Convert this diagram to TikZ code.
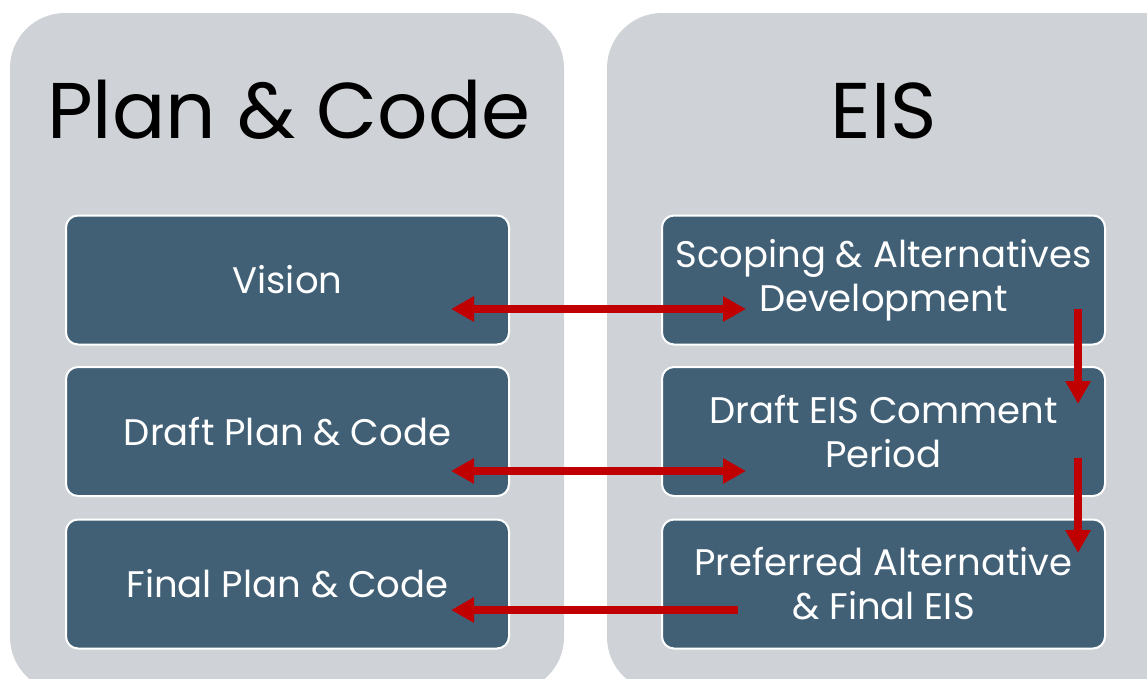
\documentclass[tikz,border=0pt]{standalone}
\usepackage{fontspec}
\setmainfont{Poppins}
\usetikzlibrary{arrows.meta,calc}
\definecolor{panelgray}{RGB}{207,210,214}
\definecolor{stepblue}{RGB}{65,96,118}
\definecolor{linkred}{RGB}{192,0,0}
\tikzset{
panel/.style={fill=panelgray, rounded corners=55pt},
title/.style={text=black, anchor=base, font=\fontsize{79}{90}\selectfont},
stepbox/.style={draw=white, line width=2pt, fill=stepblue, rounded corners=12pt,
  minimum width=443pt, minimum height=129pt, text=white, align=center,
  font=\fontsize{37}{44}\selectfont},
link/.style={draw=linkred, line width=7.5pt, >={Triangle[length=23pt,width=24pt]}}
}
\begin{document}
\begin{tikzpicture}[x=1pt,y=-1pt]
  \useasboundingbox (0,0) rectangle (1147,678);
  \clip (0,0) rectangle (1147,678);
  \fill[panel] (10,13) rectangle (564,692);
  \fill[panel] (607,13) rectangle (1200,692);
  \node[title] (plancode) at (289,138) {Plan \& Code};
  \node[title] (eis) at (884,138) {EIS};
  \node[stepbox] (vision) at (287.5,280) {Vision};
  \node[stepbox] (draftplan) at (287.5,431.5) {Draft Plan \& Code};
  \node[stepbox] (finalplan) at (287.5,584) {Final Plan \& Code};
  \node[stepbox] (scoping) at (883.5,280) {Scoping \& Alternatives\\Development};
  \node[stepbox] (drafteis) at (883.5,431.5) {Draft EIS Comment\\Period};
  \node[stepbox] (preferred) at (883.5,584) {Preferred Alternative\\\& Final EIS};
  \draw[link,<->] ($(vision.east)+(-59,29)$) -- ($(scoping.west)+(85,29)$);
  \draw[link,<->] ($(draftplan.east)+(-59,39.5)$) -- ($(drafteis.west)+(85,39.5)$);
  \draw[link,->] ($(preferred.west)+(77,26)$) -- ($(finalplan.east)+(-59,26)$);
  \draw[link,->] ($(scoping.east)+(-28,29)$) -- ($(drafteis.east)+(-28,-27.5)$);
  \draw[link,->] ($(drafteis.east)+(-28,26.5)$) -- ($(preferred.east)+(-28,-31)$);
\end{tikzpicture}
\end{document}
